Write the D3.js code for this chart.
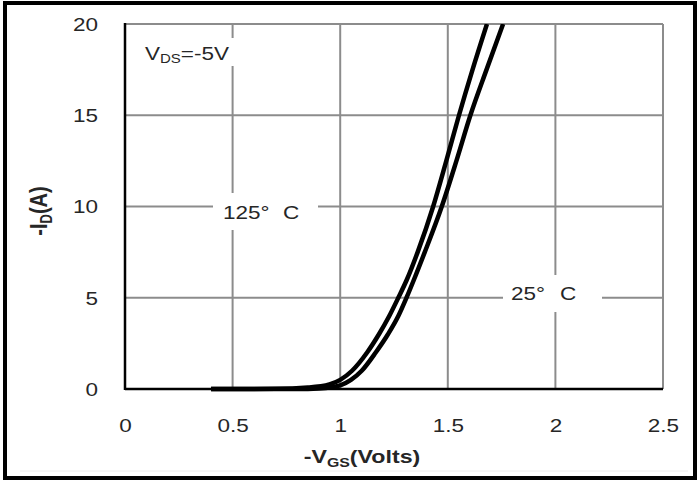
<!DOCTYPE html>
<html>
<head>
    <meta charset="utf-8">
    <title>-ID vs -VGS</title>
    <script src="https://d3js.org/d3.v7.min.js"></script>
    <style>
        body { margin: 0; background: #fff; }
        svg { display: block; }
        text { font-family: "Liberation Sans", Arial, sans-serif; fill: #262626; }
        .grid line { stroke: #8c8c8c; stroke-width: 2px; }
        .curve { fill: none; stroke: #000; stroke-width: 4.5px; }
    </style>
</head>
<body>
<script type="text/javascript">
    // values
    let xTicks = [0, 0.5, 1, 1.5, 2, 2.5];
    let yTicks = [0, 5, 10, 15, 20];

    // 125 C curve
    let vgs125 = [0.4, 0.7, 0.85, 0.95, 1.0, 1.055, 1.125, 1.18, 1.228, 1.27, 1.31, 1.36, 1.432, 1.493, 1.552, 1.615, 1.682];
    let id125  = [0, 0.01, 0.08, 0.25, 0.5, 1.0, 2.0, 3.0, 4.0, 5, 6, 7.5, 10, 12.5, 15, 17.5, 20];

    // 25 C curve
    let vgs25 = [0.4, 0.8, 0.9, 0.96, 1.0, 1.05, 1.1, 1.165, 1.222, 1.27, 1.308, 1.343, 1.393, 1.472, 1.54, 1.605, 1.68, 1.757];
    let id25  = [0, 0, 0.03, 0.1, 0.2, 0.5, 1.0, 2.0, 3.0, 4.0, 5, 6, 7.5, 10, 12.5, 15, 17.5, 20];

    let W = 699, H = 482;
    let pLeft = 125, pRight = 663, pTop = 24, pBottom = 389;
    let sx = 1.25; // the scan is stretched sideways

    let svg = d3.select("body").append("svg")
        .attr("width", W)
        .attr("height", H);

    // outer frame
    svg.append("rect")
        .attr("x", 5).attr("y", 3)
        .attr("width", 690).attr("height", 475)
        .attr("fill", "none")
        .attr("stroke", "#000")
        .attr("stroke-width", 4);

    svg.append("line")
        .attr("x1", 20).attr("x2", 688)
        .attr("y1", 471).attr("y2", 471)
        .attr("stroke", "#ececec").attr("stroke-width", 1);

    let x = d3.scaleLinear().domain([0, 2.5]).range([pLeft, pRight]);
    let y = d3.scaleLinear().domain([0, 20]).range([pBottom, pTop]);

    // grid
    let grid = svg.append("g").attr("class", "grid");
    grid.selectAll(".vx")
        .data(xTicks.filter(d => d > 0))
        .join("line")
        .attr("x1", d => x(d)).attr("x2", d => x(d))
        .attr("y1", pTop).attr("y2", pBottom);
    grid.selectAll(".hy")
        .data(yTicks.filter(d => d > 0))
        .join("line")
        .attr("x1", pLeft).attr("x2", pRight)
        .attr("y1", d => y(d)).attr("y2", d => y(d));

    // label boxes that cut the grid
    let boxes = [[140, 38, 96, 28], [213, 193, 105, 37], [503, 275, 99, 37]];
    svg.append("g").selectAll("rect")
        .data(boxes)
        .join("rect")
        .attr("x", d => d[0]).attr("y", d => d[1])
        .attr("width", d => d[2]).attr("height", d => d[3])
        .attr("fill", "#fff");

    // axes
    let xAxis = svg.append("g")
        .attr("transform", `translate(0,${pBottom})`)
        .call(d3.axisBottom(x).tickValues(xTicks).tickSize(0).tickPadding(0).tickFormat(d3.format("")));
    xAxis.select(".domain").remove();
    xAxis.selectAll("text")
        .attr("y", 43).attr("dy", null)
        .attr("transform", `scale(${sx},1)`)
        .style("font-size", "18px")
        .style("fill", "#262626");

    let yAxis = svg.append("g")
        .attr("transform", `translate(${pLeft},0)`)
        .call(d3.axisLeft(y).tickValues(yTicks).tickSize(0).tickPadding(0));
    yAxis.select(".domain").remove();
    yAxis.selectAll("text")
        .attr("x", -27 / sx).attr("dy", "0.35em")
        .attr("transform", `scale(${sx},1)`)
        .style("font-size", "18px")
        .style("fill", "#262626");

    svg.append("line")
        .attr("x1", pLeft).attr("x2", pLeft)
        .attr("y1", pTop - 1).attr("y2", pBottom + 1)
        .attr("stroke", "#000").attr("stroke-width", 2.5);
    svg.append("line")
        .attr("x1", pLeft).attr("x2", pRight)
        .attr("y1", pBottom).attr("y2", pBottom)
        .attr("stroke", "#000").attr("stroke-width", 2.5);

    // curves
    svg.append("clipPath").attr("id", "plot")
        .append("rect")
        .attr("x", pLeft).attr("y", pTop)
        .attr("width", pRight - pLeft).attr("height", pBottom - pTop + 4);

    let line = d3.line()
        .x(d => x(d[0]))
        .y(d => y(d[1]))
        .curve(d3.curveMonotoneX);

    let series = [d3.zip(vgs125, id125), d3.zip(vgs25, id25)];
    svg.append("g")
        .attr("clip-path", "url(#plot)")
        .selectAll("path")
        .data(series)
        .join("path")
        .attr("class", "curve")
        .attr("d", line);

    // text helper, stretched like the scan
    function label(px, py, size, weight) {
        return svg.append("text")
            .attr("transform", `translate(${px},${py}) scale(${sx},1)`)
            .style("font-size", size + "px")
            .style("font-weight", weight || "normal");
    }

    let vds = label(145, 60, 18);
    vds.append("tspan").text("V");
    vds.append("tspan").attr("dy", 3).style("font-size", "12px").text("DS");
    vds.append("tspan").attr("dy", -3).text("=-5V");

    label(223, 219, 18).text("125°");
    label(283, 219, 18).text("C");
    label(511, 300, 18).text("25°");
    label(560, 300, 18).text("C");

    // axis titles
    let xt = svg.append("text")
        .attr("transform", `translate(362,463) scale(1.22,1)`)
        .attr("text-anchor", "middle")
        .style("font-size", "19px")
        .style("font-weight", "bold");
    xt.append("tspan").text("-V");
    xt.append("tspan").attr("dy", 4).style("font-size", "13px").text("GS");
    xt.append("tspan").attr("dy", -4).text("(Volts)");

    let yt = svg.append("text")
        .attr("transform", `translate(47,211) rotate(-90) scale(1,1.22)`)
        .attr("text-anchor", "middle")
        .style("font-size", "20px")
        .style("font-weight", "bold");
    yt.append("tspan").text("-I");
    yt.append("tspan").attr("dy", 4).style("font-size", "13px").text("D");
    yt.append("tspan").attr("dy", -4).text("(A)");
</script>
</body>
</html>
